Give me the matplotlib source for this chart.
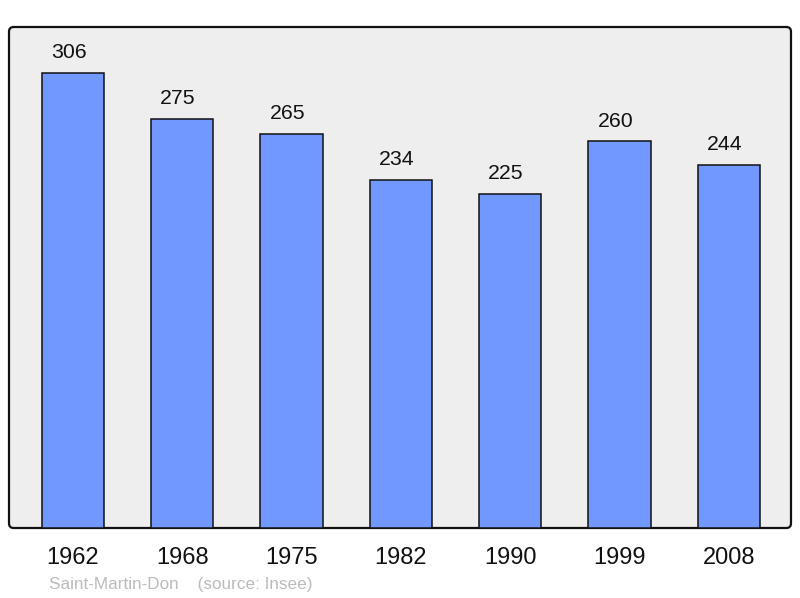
import numpy as np
from matplotlib import pyplot as plt
from matplotlib.patches import FancyBboxPatch

years = ["1962", "1968", "1975", "1982", "1990", "1999", "2008"]
population = [306, 275, 265, 234, 225, 260, 244]
caption = "Saint-Martin-Don    (source: Insee)"

plt.rcParams['font.family'] = ['Liberation Sans', 'DejaVu Sans']

fig = plt.figure(figsize=(8, 5.98), dpi=100)
ax = fig.add_axes([9 / 800, 70 / 598, 782 / 800, 501 / 598])
ax.set_facecolor("none")
for s in ax.spines.values():
    s.set_visible(False)

# rounded frame behind the bars
frame = FancyBboxPatch((0, 0), 1, 1, boxstyle="round,pad=0,rounding_size=0.006",
                       mutation_aspect=782 / 501, transform=ax.transAxes,
                       facecolor="#eeeeee", edgecolor="#111111", linewidth=1.6,
                       zorder=0, clip_on=False)
ax.add_patch(frame)

x = np.arange(len(years))
ax.bar(x, population, width=0.57, color="#7098ff", edgecolor="#111111",
       linewidth=1.1, zorder=2)

# value labels sit a little left of the bar centre in the original
for xi, v in zip(x, population):
    ax.annotate(str(v), (xi, v), xytext=(-3, 7.8), textcoords="offset points",
                ha="center", va="bottom", fontsize=15.3, color="#111111")

ax.set_xlim(-0.585, 6.57)
ax.set_ylim(0, 337)
ax.set_yticks([])
ax.set_xticks(x)
ax.set_xticklabels(years, fontsize=17, color="#111111")
ax.tick_params(axis="x", length=0, pad=13.5)

fig.text(49 / 800, 1 - 585 / 598, caption, fontsize=12.3, color="#bbbbbb",
         ha="left", va="center")

fig.savefig("out.png", dpi=100)
